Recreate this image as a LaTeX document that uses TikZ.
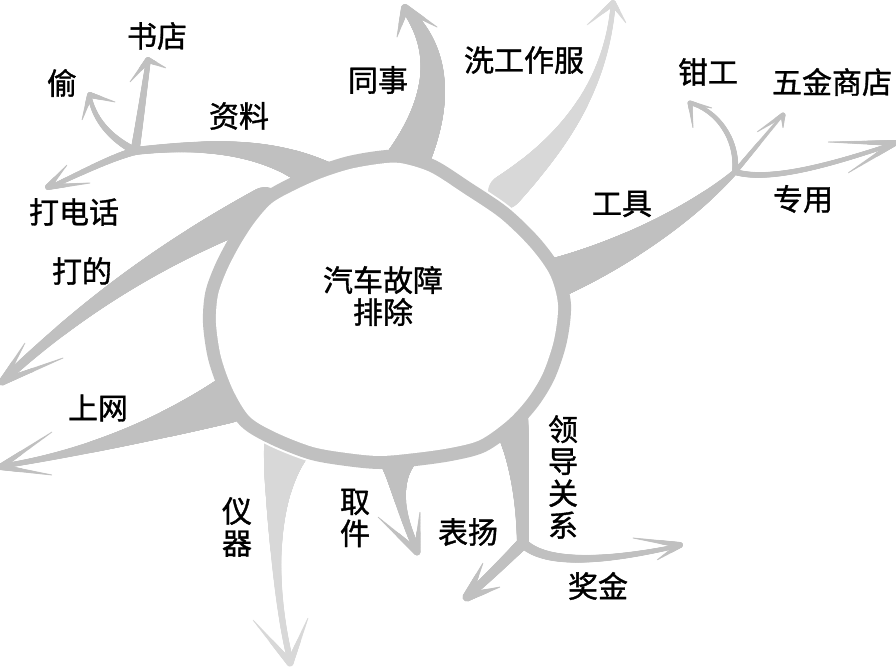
\documentclass[tikz,border=0pt]{standalone}
\usepackage{fontspec}
\newfontfamily\cjk{Noto Sans CJK SC}[FakeBold=1.2]
\usetikzlibrary{decorations.markings}
\definecolor{branchgray}{RGB}{192,192,192}
\definecolor{palegray}{RGB}{216,216,216}

\begin{document}
\begin{tikzpicture}[x=1pt, y=-1pt,
  branch/.style n args={3}{postaction={decorate}, decoration={markings,
      mark=between positions 0 and 1 step 0.6pt with {%
        \pgfmathsetmacro\tpos{\pgfkeysvalueof{/pgf/decoration/mark info/distance from start}/\pgfdecoratedpathlength}%
        \pgfmathsetmacro\rad{0.5*(#2+(#1-#2)*max(0.001,1-\tpos)^#3)}%
        \fill (0,0) circle[radius=\rad pt];}}},
  lbl/.style={font=\cjk\fontsize{30pt}{32pt}\selectfont, inner sep=0pt, align=center}]

\useasboundingbox (0,0) rectangle (896,666);

\def\blob{plot[smooth cycle] coordinates {(400,163) (430,172) (463,193) (500,218)
  (530,247) (550,275) (558,305) (554,340) (543,373) (528,398) (508,420) (480,440)
  (450,448) (415,453) (380,456) (347,453) (313,447) (277,433) (250,417) (233,390)
  (221,357) (216,323) (218,295) (227,270) (240,245) (255,222) (272,203) (295,190)
  (322,178) (350,169) (378,164)}}

% tip, barb, barb, width
\def\barbs#1#2#3#4{%
  \path[branch={#4}{1}{1}] #1 -- #2;
  \path[branch={#4}{1}{1}] #1 -- #3;}

\coordinate (zl) at (135,151);
\coordinate (gj) at (735,172);
\coordinate (ld) at (523,543);

% light branches
\begin{scope}[color=palegray]
\path[branch={34}{5}{2}] (505,192) .. controls (560,145) and (605,90) .. (613,6);
\barbs{(613,3)}{(587,25)}{(626,23)}{6}
\path[branch={46}{6}{3}] (287,447) .. controls (270,500) and (274,590) .. (289,655);
\barbs{(290,663)}{(253,620)}{(308,618)}{7}
\end{scope}

% ring
\draw[white, line width=30pt] \blob;
\draw[branchgray, line width=26pt] \blob;

\begin{scope}[color=branchgray]
% top left
\path[branch={36}{8}{2}] (325,180) .. controls (275,148) and (215,142) .. (zl);
\path[branch={9}{5}{1}] (zl) .. controls (140,120) and (144,90) .. (148,63);
\barbs{(148,60)}{(130,82)}{(166,68)}{6}
\path[branch={8}{4}{1}] (zl) .. controls (110,138) and (95,120) .. (90,98);
\barbs{(90,95)}{(82,120)}{(115,102)}{6}
\path[branch={8}{4}{1}] (zl) .. controls (105,160) and (78,175) .. (50,187);
\barbs{(48,187)}{(67,165)}{(90,183)}{6}
% left
\path[branch={36}{8}{1.5}] (265,205) .. controls (190,240) and (100,290) .. (4,380);
\barbs{(2,382)}{(25,343)}{(63,358)}{7}
\path[branch={46}{5}{2}] (228,400) .. controls (170,425) and (90,452) .. (3,466);
\barbs{(0,467)}{(52,432)}{(52,475)}{6}
% bottom
\path[branch={42}{7}{3}] (398,452) .. controls (394,492) and (405,522) .. (416,548);
\barbs{(417,552)}{(378,517)}{(420,512)}{7}
\path[branch={36}{12}{2}] (510,418) .. controls (520,460) and (522,500) .. (ld);
\path[branch={12}{8}{1}] (ld) .. controls (508,558) and (490,576) .. (470,594);
\barbs{(467,597)}{(483,563)}{(500,587)}{9}
\path[branch={10}{4}{1}] (ld) .. controls (545,565) and (605,562) .. (678,546);
\barbs{(680,545)}{(633,538)}{(657,560)}{6}
% right
\path[branch={40}{5}{1}] (556,278) .. controls (620,255) and (690,215) .. (gj);
\path[branch={6}{4}{1}] (gj) .. controls (738,140) and (718,112) .. (693,104);
\barbs{(690,103)}{(693,128)}{(712,108)}{5}
\path[branch={5}{3}{1}] (gj) -- (781,117);
\barbs{(783,115)}{(757,132)}{(783,128)}{5}
\path[branch={6}{4}{1}] (gj) .. controls (770,182) and (830,165) .. (893,144);
\barbs{(895,143)}{(828,142)}{(848,173)}{6}
% top
\path[branch={44}{9}{1}] (405,165) .. controls (432,118) and (448,60) .. (408,12);
\barbs{(405,8)}{(397,37)}{(437,27)}{8}
\end{scope}

\fill[white] \blob;

\node[lbl] (center) at (383,296) {汽车故障\\排除};
\node[lbl] (shudian) at (157,36) {书店};
\node[lbl] (tou) at (62,83) {偷};
\node[lbl] (dadianhua) at (74,212) {打电话};
\node[lbl] (dadi) at (82,271) {打的};
\node[lbl] (ziliao) at (239,116) {资料};
\node[lbl] (tongshi) at (378,80) {同事};
\node[lbl] (xigong) at (524,60) {洗工作服};
\node[lbl] (qiangong) at (708,72) {钳工};
\node[lbl] (wujin) at (832,82) {五金商店};
\node[lbl] (gongju) at (622,204) {工具};
\node[lbl] (zhuanyong) at (803,199) {专用};
\node[lbl] (shangwang) at (98,408) {上网};
\node[lbl] (yiqi) at (237,527) {仪\\器};
\node[lbl] (qujian) at (355,518) {取\\件};
\node[lbl] (biaoyang) at (468,532) {表扬};
\node[lbl] (lingdao) at (563,477) {领\\导\\关\\系};
\node[lbl] (jiangjin) at (598,586) {奖金};
\end{tikzpicture}
\end{document}
